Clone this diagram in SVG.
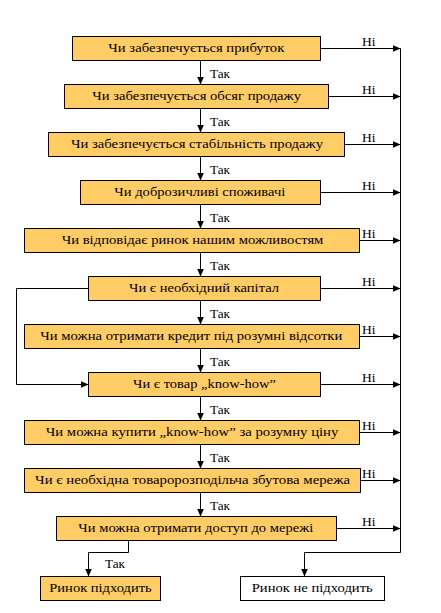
<svg xmlns="http://www.w3.org/2000/svg" width="441" height="613" viewBox="0 0 441 613">
<defs>
<marker id="ah" markerUnits="userSpaceOnUse" markerWidth="9" markerHeight="8" refX="8" refY="3.5" orient="auto"><path d="M0,0 L8,3.5 L0,7 z" fill="#000"/></marker>
<style>
.b{fill:#FFCC66;stroke:#000;stroke-width:1}
.w{fill:#fff;stroke:#000;stroke-width:1}
.c{fill:none;stroke:#000;stroke-width:1}
.a{marker-end:url(#ah)}
svg text.t{font-family:'Liberation Serif','Times New Roman',serif !important;font-size:13.5px !important;font-weight:400 !important;fill:#000}
svg text.l{font-family:'Liberation Serif','Times New Roman',serif !important;font-size:12.5px !important;font-weight:400 !important;fill:#000}
</style>
</defs>
<rect width="441" height="613" fill="#fff"/>
<g id="n1"><rect class="b" x="72.5" y="36.5" width="248" height="24"/><text class="t" x="108.3" y="52" textLength="176" lengthAdjust="spacingAndGlyphs">Чи забезпечується прибуток</text></g>
<g id="n2"><rect class="b" x="64.5" y="84.5" width="264" height="24"/><text class="t" x="92.3" y="100" textLength="208.7" lengthAdjust="spacingAndGlyphs">Чи забезпечується обсяг продажу</text></g>
<g id="n3"><rect class="b" x="48.5" y="132.5" width="296" height="24"/><text class="t" x="71" y="148" textLength="252" lengthAdjust="spacingAndGlyphs">Чи забезпечується стабільність продажу</text></g>
<g id="n4"><rect class="b" x="80.5" y="180.5" width="240" height="24"/><text class="t" x="114.3" y="196" textLength="171" lengthAdjust="spacingAndGlyphs">Чи доброзичливі споживачі</text></g>
<g id="n5"><rect class="b" x="24.5" y="228.5" width="335" height="24"/><text class="t" x="61.7" y="244" textLength="261.7" lengthAdjust="spacingAndGlyphs">Чи відповідає ринок нашим можливостям</text></g>
<g id="n6"><rect class="b" x="88.5" y="276.5" width="232" height="24"/><text class="t" x="129" y="292" textLength="150" lengthAdjust="spacingAndGlyphs">Чи є необхідний капітал</text></g>
<g id="n7"><rect class="b" x="24.5" y="324.5" width="335" height="24"/><text class="t" x="40.3" y="340" textLength="302" lengthAdjust="spacingAndGlyphs">Чи можна отримати кредит під розумні відсотки</text></g>
<g id="n8"><rect class="b" x="88.5" y="372.5" width="232" height="24"/><text class="t" x="133" y="388" textLength="143" lengthAdjust="spacingAndGlyphs">Чи є товар „know-how”</text></g>
<g id="n9"><rect class="b" x="24.5" y="420.5" width="335" height="24"/><text class="t" x="45.7" y="436" textLength="292.7" lengthAdjust="spacingAndGlyphs">Чи можна купити „know-how” за розумну ціну</text></g>
<g id="n10"><rect class="b" x="24.5" y="468.5" width="336" height="24"/><text class="t" x="35" y="484" textLength="315" lengthAdjust="spacingAndGlyphs">Чи є необхідна товаророзподільча збутова мережа</text></g>
<g id="n11"><rect class="b" x="56.5" y="516.5" width="280" height="24"/><text class="t" x="78.3" y="532" textLength="235" lengthAdjust="spacingAndGlyphs">Чи можна отримати доступ до мережі</text></g>
<g id="n12"><rect class="b" x="40.5" y="576.5" width="120" height="24"/><text class="t" x="49.3" y="592" textLength="102.3" lengthAdjust="spacingAndGlyphs">Ринок підходить</text></g>
<g id="n13"><rect class="w" x="240.5" y="576.5" width="144" height="24"/><text class="t" x="251.7" y="592" textLength="121" lengthAdjust="spacingAndGlyphs">Ринок не підходить</text></g>
<g id="connectors">
<g class="c a">
<line x1="200.5" y1="60.5" x2="200.5" y2="84.5"/>
<line x1="200.5" y1="108.5" x2="200.5" y2="132.5"/>
<line x1="200.5" y1="156.5" x2="200.5" y2="180.5"/>
<line x1="200.5" y1="204.5" x2="200.5" y2="228.5"/>
<line x1="200.5" y1="252.5" x2="200.5" y2="276.5"/>
<line x1="200.5" y1="300.5" x2="200.5" y2="324.5"/>
<line x1="200.5" y1="348.5" x2="200.5" y2="372.5"/>
<line x1="200.5" y1="396.5" x2="200.5" y2="420.5"/>
<line x1="200.5" y1="444.5" x2="200.5" y2="468.5"/>
<line x1="200.5" y1="492.5" x2="200.5" y2="516.5"/>
<line x1="320.5" y1="48.5" x2="400.5" y2="48.5"/>
<line x1="328.5" y1="96.5" x2="400.5" y2="96.5"/>
<line x1="344.5" y1="144.5" x2="400.5" y2="144.5"/>
<line x1="320.5" y1="192.5" x2="400.5" y2="192.5"/>
<line x1="359.5" y1="240.5" x2="400.5" y2="240.5"/>
<line x1="320.5" y1="288.5" x2="400.5" y2="288.5"/>
<line x1="359.5" y1="336.5" x2="400.5" y2="336.5"/>
<line x1="320.5" y1="384.5" x2="400.5" y2="384.5"/>
<line x1="359.5" y1="432.5" x2="400.5" y2="432.5"/>
<line x1="360.5" y1="480.5" x2="400.5" y2="480.5"/>
<line x1="336.5" y1="528.5" x2="400.5" y2="528.5"/>
<polyline points="88.5,288.5 16.5,288.5 16.5,384.5 88.5,384.5"/>
<polyline points="128.5,540.5 128.5,552.5 88.5,552.5 88.5,576.5"/>
<polyline points="400.5,552.5 304.5,552.5 304.5,576.5"/>
</g>
<line class="c" x1="400.5" y1="48.5" x2="400.5" y2="552.5"/>
<text class="l" x="210" y="77.5" textLength="20" lengthAdjust="spacingAndGlyphs">Так</text>
<text class="l" x="210" y="125.5" textLength="20" lengthAdjust="spacingAndGlyphs">Так</text>
<text class="l" x="210" y="173.5" textLength="20" lengthAdjust="spacingAndGlyphs">Так</text>
<text class="l" x="210" y="221.5" textLength="20" lengthAdjust="spacingAndGlyphs">Так</text>
<text class="l" x="210" y="269.5" textLength="20" lengthAdjust="spacingAndGlyphs">Так</text>
<text class="l" x="210" y="317.5" textLength="20" lengthAdjust="spacingAndGlyphs">Так</text>
<text class="l" x="210" y="365.5" textLength="20" lengthAdjust="spacingAndGlyphs">Так</text>
<text class="l" x="210" y="413.5" textLength="20" lengthAdjust="spacingAndGlyphs">Так</text>
<text class="l" x="210" y="461.5" textLength="20" lengthAdjust="spacingAndGlyphs">Так</text>
<text class="l" x="210" y="509.5" textLength="20" lengthAdjust="spacingAndGlyphs">Так</text>
<text class="l" x="105" y="567.5" textLength="20" lengthAdjust="spacingAndGlyphs">Так</text>
<text class="l" x="362" y="45.5" textLength="13.5" lengthAdjust="spacingAndGlyphs">Ні</text>
<text class="l" x="362" y="93.5" textLength="13.5" lengthAdjust="spacingAndGlyphs">Ні</text>
<text class="l" x="362" y="141.5" textLength="13.5" lengthAdjust="spacingAndGlyphs">Ні</text>
<text class="l" x="362" y="189.5" textLength="13.5" lengthAdjust="spacingAndGlyphs">Ні</text>
<text class="l" x="362" y="237.5" textLength="13.5" lengthAdjust="spacingAndGlyphs">Ні</text>
<text class="l" x="362" y="285.5" textLength="13.5" lengthAdjust="spacingAndGlyphs">Ні</text>
<text class="l" x="362" y="333.5" textLength="13.5" lengthAdjust="spacingAndGlyphs">Ні</text>
<text class="l" x="362" y="381.5" textLength="13.5" lengthAdjust="spacingAndGlyphs">Ні</text>
<text class="l" x="362" y="429.5" textLength="13.5" lengthAdjust="spacingAndGlyphs">Ні</text>
<text class="l" x="362" y="477.5" textLength="13.5" lengthAdjust="spacingAndGlyphs">Ні</text>
<text class="l" x="362" y="525.5" textLength="13.5" lengthAdjust="spacingAndGlyphs">Ні</text>
</g>
</svg>
